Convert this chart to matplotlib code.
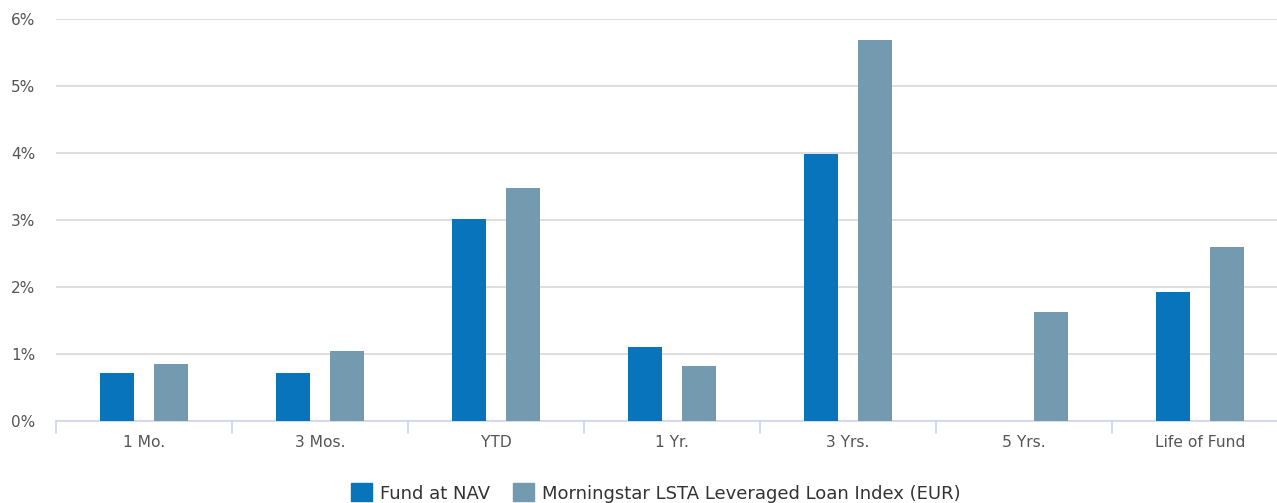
import matplotlib
matplotlib.use('Agg')
import matplotlib.pyplot as plt
from matplotlib.patches import Patch

plt.rcParams['font.family'] = ['DejaVu Sans']

categories = ['1 Mo.', '3 Mos.', 'YTD', '1 Yr.', '3 Yrs.', '5 Yrs.', 'Life of Fund']
fund_nav = [0.72, 0.72, 3.01, 1.10, 3.99, None, 1.93]
loan_index = [0.85, 1.04, 3.48, 0.82, 5.68, 1.63, 2.60]
y_ticks = [0, 1, 2, 3, 4, 5, 6]

FUND_COLOR = '#0774bb'
INDEX_COLOR = '#749aaf'
TEXT_COLOR = '#555555'
GRID_COLOR = '#d8d8d8'
AXIS_COLOR = '#ccd6eb'

W, H = 1277, 503
fig = plt.figure(figsize=(W / 100, H / 100), dpi=100)
# plot area runs past the right edge, as in the source
ax = fig.add_axes([56 / W, (H - 421) / H, 1232 / W, 402 / H])

n = len(categories)
xs = list(range(n))
bw = 0.193
off = 0.153
for i in xs:
    if fund_nav[i] is not None:
        ax.bar(i - off, fund_nav[i], width=bw, color=FUND_COLOR, zorder=3)
    ax.bar(i + off, loan_index[i], width=bw, color=INDEX_COLOR, zorder=3)

ax.set_xlim(-0.5, n - 0.5)
ax.set_ylim(0, 6)
ax.set_yticks(y_ticks)
ax.set_yticklabels([f'{v}%' for v in y_ticks])
ax.yaxis.grid(True, color=GRID_COLOR, linewidth=1.2, zorder=0)
ax.set_axisbelow(True)

ax.set_xticks(xs)
ax.set_xticklabels(categories)
ax.set_xticks([i - 0.5 for i in range(n + 1)], minor=True)
ax.tick_params(axis='x', which='major', length=0, pad=10, labelsize=11.2, colors=TEXT_COLOR)
ax.tick_params(axis='x', which='minor', length=9, width=1.2, color=AXIS_COLOR)
ax.tick_params(axis='y', length=0, pad=15, labelsize=11, colors=TEXT_COLOR)

for side in ['top', 'right', 'left']:
    ax.spines[side].set_visible(False)
ax.spines['bottom'].set_color(AXIS_COLOR)
ax.spines['bottom'].set_linewidth(1.2)

handles = [Patch(color=FUND_COLOR, label='Fund at NAV'),
           Patch(color=INDEX_COLOR, label='Morningstar LSTA Leveraged Loan Index (EUR)')]
fig.legend(handles=handles, loc='center', bbox_to_anchor=(656 / W, (H - 493) / H),
           ncol=2, frameon=False, fontsize=13, handlelength=1.15, handleheight=1.15,
           handletextpad=0.45, columnspacing=1.3, labelcolor='#333333')

fig.savefig('out.png', dpi=100)
